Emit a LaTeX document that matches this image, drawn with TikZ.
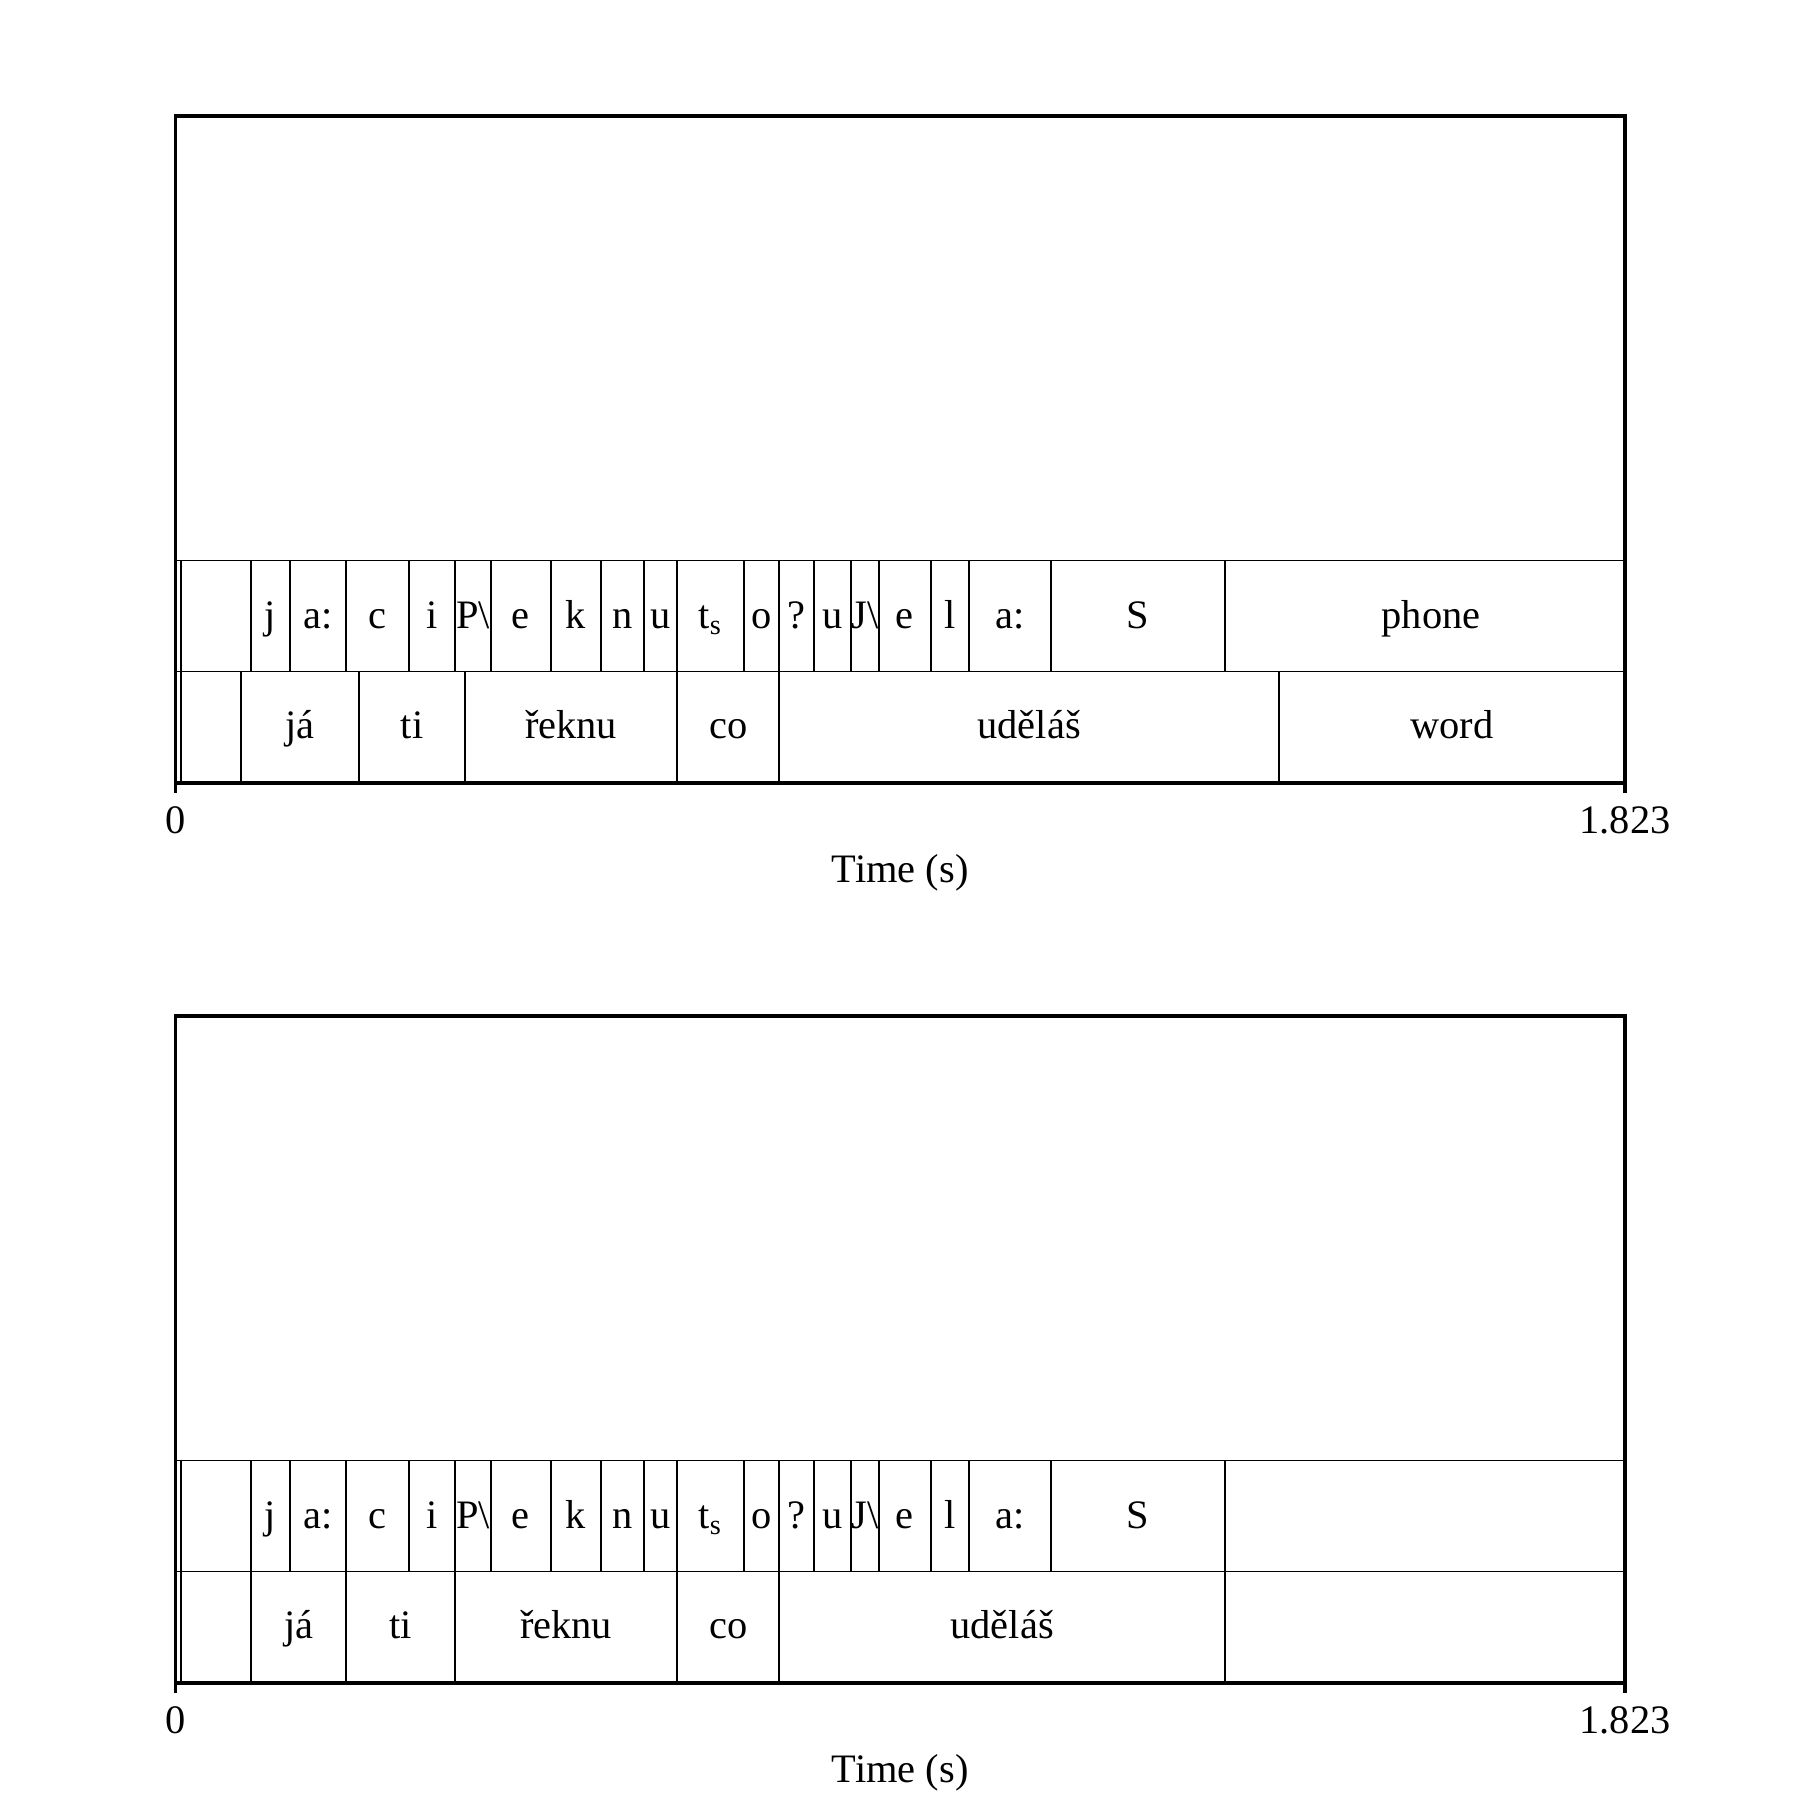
\documentclass[tikz,border=0pt]{standalone}
\usepackage{fontspec}
\setmainfont{Liberation Serif}
\usetikzlibrary{positioning}

\begin{document}
\begin{tikzpicture}[
    every node/.style={font=\fontsize{11.5}{13}\selectfont, inner sep=0pt},
    frame/.style={line width=0.9pt},
    bound/.style={line width=0.55pt},
    lab/.style={anchor=base}
]
\useasboundingbox (0,0) rectangle (18,-18);

% both panels: frame, axis and phone tier
\foreach \dy/\pn in {0/top, -9/bot} {
\begin{scope}[yshift=\dy cm, name prefix=\pn-]
% frame with ticks at 0 and end
\draw[frame] (1.756,-1.16) rectangle (16.25,-7.83);
\draw[frame] (1.756,-7.83) -- (1.756,-7.93);
\draw[frame] (16.25,-7.83) -- (16.25,-7.93);

% tier lines
\draw[bound] (1.756,-5.605) -- (16.25,-5.605);
\draw[bound] (1.756,-6.715) -- (16.25,-6.715);
\draw[bound] (1.806,-5.605) -- (1.806,-7.83);

% phones
\foreach \a/\b/\p [count=\i] in {2.514/2.897/j, 2.897/3.459/a:, 3.459/4.091/c,
    4.091/4.550/i, 4.550/4.909/P\textbackslash, 4.909/5.510/e, 5.510/6.012/k,
    6.012/6.440/n, 6.440/6.773/u, 6.773/7.442/t\textsubscript{s}, 7.442/7.792/o,
    7.792/8.140/?, 8.140/8.511/u, 8.511/8.787/J\textbackslash, 8.787/9.311/e,
    9.311/9.694/l, 9.694/10.513/a:, 10.513/12.250/S} {
  \draw[bound] (\a,-5.605) -- (\a,-6.715);
  \node[lab] (ph\i) at ({(\a+\b)/2},-6.283) {\p};
}
\draw[bound] (12.25,-5.605) -- (12.25,-6.715);

% time axis
\node[lab] (zero) at (1.756,-8.333) {0};
\node[lab] (end) at (16.25,-8.333) {1.823};
\node[lab] (xlab) at (9.003,-8.825) {Time (s)};
\end{scope}
}

% tier name, top panel
\node[lab] (tiername) at (14.31,-6.283) {phone};

% words, top panel
\foreach \a/\b/\w [count=\i] in {2.407/3.593/já, 3.593/4.649/ti, 4.649/6.773/řeknu,
    6.773/7.792/co, 7.792/12.79/uděláš, 12.79/16.25/word} {
  \draw[bound] (\a,-6.715) -- (\a,-7.83);
  \node[lab] (top-w\i) at ({(\a+\b)/2},-7.383) {\w};
}

% words, bottom panel
\foreach \a/\b/\w [count=\i] in {2.514/3.459/já, 3.459/4.550/ti, 4.550/6.773/řeknu,
    6.773/7.792/co, 7.792/12.25/uděláš} {
  \draw[bound] (\a,-15.715) -- (\a,-16.83);
  \node[lab] (bot-w\i) at ({(\a+\b)/2},-16.383) {\w};
}
\draw[bound] (12.25,-15.715) -- (12.25,-16.83);
\end{tikzpicture}
\end{document}
